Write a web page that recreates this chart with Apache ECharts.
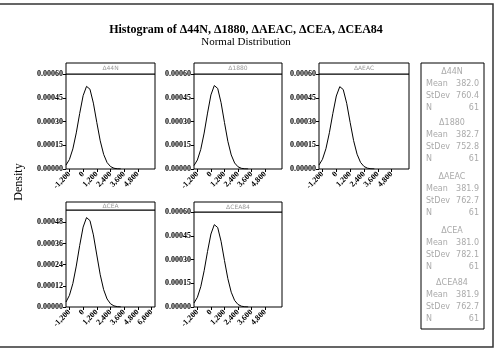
<!DOCTYPE html>
<html>
<head>
<meta charset="utf-8">
<script src="https://cdn.jsdelivr.net/npm/echarts@6/dist/echarts.min.js"></script>
<style>
  html, body { margin: 0; padding: 0; background: #fff; }
  #chart { width: 497px; height: 349px; }
</style>
</head>
<body>
<div id="chart"></div>
<script>
// 数据
const names = ['Δ44N', 'Δ1880', 'ΔAEAC', 'ΔCEA', 'ΔCEA84'];
const means = ['382.0', '382.7', '381.9', '381.0', '381.9'];
const stdevs = ['760.4', '752.8', '762.7', '782.1', '762.7'];
const counts = ['61', '61', '61', '61', '61'];

const xs = [-1500, -1200, -900, -600, -300, 0, 300, 600, 900, 1200, 1500, 1800, 2100, 2400, 2700, 3000, 3300];
const d44N = [0.0000245, 0.0000601, 0.000127, 0.000228, 0.000351, 0.000463, 0.000522, 0.000504, 0.000416, 0.000294, 0.000178, 0.0000923, 0.0000408, 0.0000155, 0.000005, 0.0000013, 0.0000003];
const d1880 = [0.000022, 0.000057, 0.000124, 0.000227, 0.000353, 0.000468, 0.000527, 0.000509, 0.000419, 0.000294, 0.000175, 0.000089, 0.000038, 0.000014, 0.0000044, 0.0000011, 0.0000002];
const dAEAC = [0.0000251, 0.0000612, 0.000128, 0.000229, 0.000351, 0.000461, 0.00052, 0.000502, 0.000415, 0.000294, 0.000179, 0.0000934, 0.0000416, 0.0000159, 0.0000052, 0.0000014, 0.0000003];
const dCEA = [0.0000283, 0.0000661, 0.000133, 0.000232, 0.000349, 0.000453, 0.000507, 0.00049, 0.000409, 0.000295, 0.000183, 0.0000983, 0.0000455, 0.0000182, 0.0000063, 0.0000019, 0.0000005];
const dCEA84 = [0.0000251, 0.0000612, 0.000128, 0.000229, 0.000351, 0.000461, 0.00052, 0.000502, 0.000415, 0.000294, 0.000179, 0.0000934, 0.0000416, 0.0000159, 0.0000052, 0.0000014, 0.0000003];
const densities = [d44N, d1880, dAEAC, dCEA, dCEA84];

const xTicksTop = [-1200, 0, 1200, 2400, 3600, 4800];
const xTicksBottom = [-1200, 0, 1200, 2400, 3600, 4800, 6000];
const yTicks60 = [0, 0.00015, 0.0003, 0.00045, 0.0006];
const yTicks48 = [0, 0.00012, 0.00024, 0.00036, 0.00048];

// 面板布局 [left, boxTop, plotTop, width, bottom]
const panels = [
    [66, 63, 74, 89, 169],
    [194, 63, 74, 88, 169],
    [319, 63, 74, 90, 169],
    [66, 202, 210, 89, 307],
    [194, 202, 212, 88, 307]
];
const yMax = [0.0006, 0.0006, 0.0006, 0.00055, 0.0006];
const yTicks = [yTicks60, yTicks60, yTicks60, yTicks48, yTicks60];
const xTicks = [xTicksTop, xTicksTop, xTicksTop, xTicksBottom, xTicksTop];

const serif = 'Liberation Serif';
const sans = 'DejaVu Sans';

const chart = echarts.init(document.getElementById('chart'));

const grids = [], xAxes = [], yAxes = [], series = [];
const graphics = [];

panels.forEach((p, i) => {
    const [left, boxTop, plotTop, width, bottom] = p;
    grids.push({
        left: left, top: plotTop, width: width, height: bottom - plotTop,
        show: true, borderColor: '#000', borderWidth: 1, backgroundColor: '#fff'
    });
    xAxes.push({
        type: 'value', gridIndex: i, min: -1500, max: 6300, position: 'bottom',
        axisLine: { show: false, onZero: false },
        splitLine: { show: false },
        axisTick: { show: true, length: 3, customValues: xTicks[i], lineStyle: { color: '#000' } },
        axisLabel: {
            customValues: xTicks[i], rotate: 45, margin: 4,
            fontFamily: serif, fontSize: 8, fontWeight: 'bold', color: '#000'
        }
    });
    yAxes.push({
        type: 'value', gridIndex: i, min: 0, max: yMax[i], position: 'left',
        axisLine: { show: false, onZero: false },
        splitLine: { show: false },
        axisTick: { show: true, length: 3, customValues: yTicks[i], lineStyle: { color: '#000' } },
        axisLabel: {
            customValues: yTicks[i], margin: 3,
            fontFamily: serif, fontSize: 8, fontWeight: 'bold', color: '#000',
            formatter: v => v.toFixed(5)
        }
    });
    series.push({
        type: 'line', xAxisIndex: i, yAxisIndex: i,
        data: xs.map((x, k) => [x, densities[i][k]]),
        showSymbol: false, smooth: false,
        lineStyle: { color: '#000', width: 1 },
        clip: true
    });
    // 面板标题条
    graphics.push({
        type: 'rect',
        shape: { x: left, y: boxTop, width: width, height: plotTop - boxTop },
        style: { fill: '#fff', stroke: '#000', lineWidth: 1 }
    });
    graphics.push({
        type: 'text', x: left + width / 2, y: (boxTop + plotTop) / 2,
        style: {
            text: names[i], fill: '#999', font: '6px ' + sans,
            textAlign: 'center', textVerticalAlign: 'middle'
        }
    });
});

// 外框
graphics.push({
    type: 'rect', shape: { x: -5, y: 4, width: 498, height: 343 },
    style: { fill: 'none', stroke: '#333', lineWidth: 1.5 }
});

// 标题
graphics.push({
    type: 'text', x: 246, y: 30,
    style: {
        text: 'Histogram of Δ44N, Δ1880, ΔAEAC, ΔCEA, ΔCEA84',
        font: 'bold 12px ' + serif, fill: '#000', textAlign: 'center', textVerticalAlign: 'middle'
    }
});
graphics.push({
    type: 'text', x: 246, y: 42,
    style: {
        text: 'Normal Distribution',
        font: '11px ' + serif, fill: '#000', textAlign: 'center', textVerticalAlign: 'middle'
    }
});

// 纵轴标题
graphics.push({
    type: 'text', x: 19, y: 182, rotation: Math.PI / 2,
    style: {
        text: 'Density', font: '12px ' + serif, fill: '#000',
        textAlign: 'center', textVerticalAlign: 'middle'
    }
});

// 图例框
graphics.push({
    type: 'rect', shape: { x: 421, y: 63, width: 63, height: 266 },
    style: { fill: '#fff', stroke: '#000', lineWidth: 1 }
});
const legendTops = [72, 123, 177, 231, 283];
const rowGap = 12;
names.forEach((n, i) => {
    const y0 = legendTops[i];
    const txt = (t, x, y, align) => graphics.push({
        type: 'text', x: x, y: y,
        style: { text: t, font: '8px ' + sans, fill: '#aaa', textAlign: align, textVerticalAlign: 'middle' }
    });
    txt(n, 452, y0, 'center');
    txt('Mean', 426, y0 + rowGap, 'left');
    txt(means[i], 479, y0 + rowGap, 'right');
    txt('StDev', 426, y0 + rowGap * 2, 'left');
    txt(stdevs[i], 479, y0 + rowGap * 2, 'right');
    txt('N', 426, y0 + rowGap * 3, 'left');
    txt(counts[i], 479, y0 + rowGap * 3, 'right');
});

chart.setOption({
    animation: false,
    backgroundColor: '#fff',
    grid: grids,
    xAxis: xAxes,
    yAxis: yAxes,
    series: series,
    graphic: graphics
});
</script>
</body>
</html>
